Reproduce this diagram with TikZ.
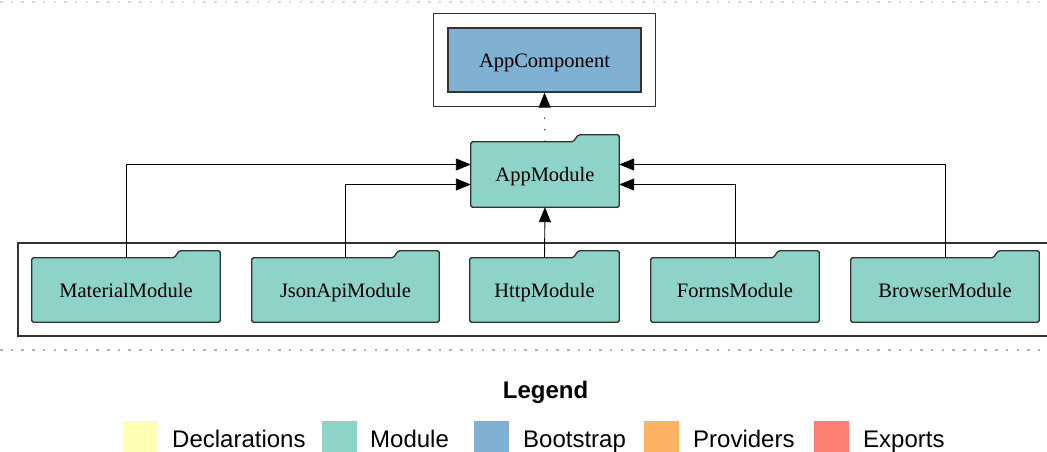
\documentclass[tikz,border=0pt]{standalone}
\usepackage{fontspec}
\setmainfont{Liberation Serif}
\newfontfamily\legfont{Liberation Sans}
\usetikzlibrary{arrows.meta,fit,backgrounds}

\definecolor{modcol}{HTML}{8DD3C7}
\definecolor{bootcol}{HTML}{80B1D3}
\definecolor{declcol}{HTML}{FFFFB3}
\definecolor{provcol}{HTML}{FDB462}
\definecolor{expcol}{HTML}{FB8072}
\definecolor{edgecol}{HTML}{333333}

\tikzset{
  modnode/.style={minimum height=64pt, inner sep=0pt, text height=14pt, text depth=0pt,
    font=\fontsize{20.5}{24}\selectfont},
  bootnode/.style={modnode, draw=edgecol, line width=1.3pt, fill=bootcol},
  folder/.style={draw=edgecol, line width=1.3pt, fill=modcol, rounded corners=1.5pt},
  clust/.style={draw=edgecol, line width=1.1pt},
  dep/.style={-{Triangle[length=15pt,width=12pt]}, line width=0.9pt},
  sep/.style={line width=2.5pt, dash pattern=on 2.5pt off 8.2pt},
  swatch/.style={minimum size=35pt, inner sep=0pt, anchor=north west},
  legtext/.style={anchor=base west, inner sep=0pt, font=\legfont\fontsize{24}{28}\selectfont}
}

\begin{document}
\begin{tikzpicture}[x=1pt,y=-1pt]
  \useasboundingbox (0,0) rectangle (1047,452);
  %% Separators
  \draw[sep, gray!30] (0,2) -- (1047,2);
  \draw[sep, gray!60] (0,350) -- (1047,350);

  %% Bootstrap component
  \node[bootnode, minimum width=193pt] (comp) at (544.5,60) {AppComponent};
  \node[clust, fit=(comp), inner sep=14pt] (compbox) {};

  %% Modules
  \node[modnode, minimum width=148pt, minimum height=65pt] (app) at (545,174.5) {AppModule};
  \foreach \n/\x/\w/\lbl in {mat/126/188/MaterialModule,
                             json/345.5/187/JsonApiModule,
                             http/544.5/149/HttpModule,
                             forms/735/168/FormsModule,
                             browser/945/188/BrowserModule}{
    \node[modnode, minimum width=\w pt] (\n) at (\x,290) {\lbl};
  }

  %% Folder outlines
  \begin{scope}[on background layer]
    \foreach \n in {app,mat,json,http,forms,browser}{
      \draw[folder] (\n.south west) -- (\n.north west) -- ([xshift=-46pt]\n.north east)
        -- ([xshift=-41pt,yshift=7pt]\n.north east) -- ([yshift=7pt]\n.north east)
        -- (\n.south east) -- cycle;
    }
  \end{scope}

  %% Imports cluster
  \draw[clust] (18,243) rectangle (1062,336);

  %% Connectors
  \draw[dep] (mat.north) |- ([yshift=10pt]app.west);
  \draw[dep] (json.north) |- ([yshift=-10pt]app.west);
  \draw[dep] (http.north) -- (app.south);
  \draw[dep] (forms.north) |- ([yshift=-10pt]app.east);
  \draw[dep] (browser.north) |- ([yshift=10pt]app.east);
  \draw[dep, dash pattern=on 1.5pt off 10pt] (app.north) -- (comp.south);

  %% Legend
  \node[anchor=base, inner sep=0pt, font=\legfont\bfseries\fontsize{24}{28}\selectfont] (legtitle) at (545.5,398) {Legend};
  \foreach \i/\col/\sx/\tx/\lbl in {0/declcol/123/172/Declarations,
                                   1/modcol/322/370/Module,
                                   2/bootcol/474/523/Bootstrap,
                                   3/provcol/644/693/Providers,
                                   4/expcol/814/863/Exports}{
    \node[swatch, fill=\col] (sw\i) at (\sx,421) {};
    \node[legtext] (leg\i) at (\tx,447) {\lbl};
  }
\end{tikzpicture}
\end{document}
